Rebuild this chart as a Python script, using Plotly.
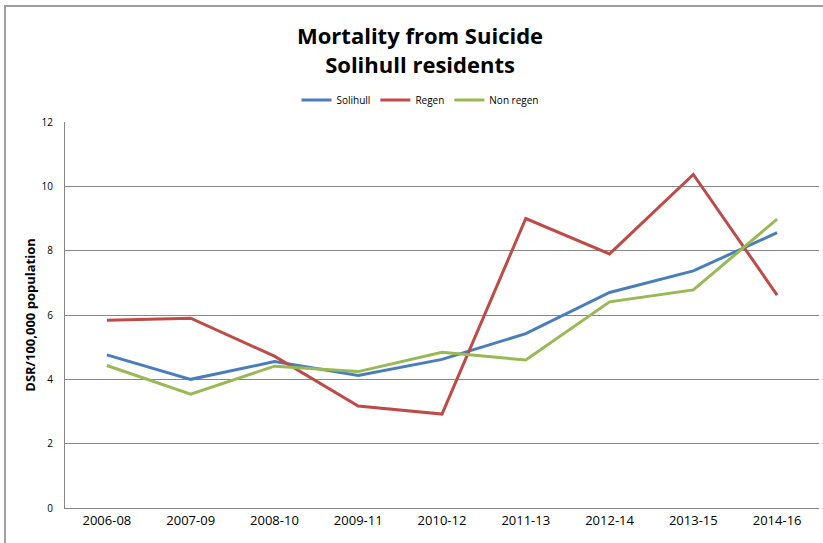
import plotly.graph_objects as go

periods = ["2006-08", "2007-09", "2008-10", "2009-11", "2010-12", "2011-13", "2012-14", "2013-15", "2014-16"]
solihull = [4.76, 4.00, 4.55, 4.12, 4.62, 5.42, 6.70, 7.37, 8.56]
regen = [5.84, 5.90, 4.72, 3.17, 2.92, 9.00, 7.90, 10.37, 6.62]
non_regen = [4.43, 3.54, 4.41, 4.24, 4.84, 4.60, 6.41, 6.78, 8.98]

series = [("Solihull", solihull, "#4A7EBB"), ("Regen", regen, "#BE4B48"), ("Non regen", non_regen, "#98B954")]

fig = go.Figure()
for name, vals, col in series:
    fig.add_trace(go.Scatter(x=periods, y=vals, name=name, mode="lines",
                             line=dict(color=col, width=3)))

W, H = 823, 543
L, T = 65, 122
pw, ph = 754, 386
R = W - L - pw
B = H - T - ph

def px_x(p):
    return (p - L) / pw

def px_y(p):
    return (T + ph - p) / ph

fig.update_layout(
    width=W, height=H,
    margin=dict(l=L, r=R, t=T, b=B, pad=0, autoexpand=False),
    paper_bgcolor="white", plot_bgcolor="white",
    font=dict(family="Liberation Sans Narrow, Open Sans, sans-serif", color="#000000"),
    showlegend=True,
    legend=dict(orientation="h", x=px_x(420), xanchor="center", y=px_y(100), yanchor="middle",
                font=dict(size=10, family="Open Sans, sans-serif"), itemwidth=30,
                bgcolor="rgba(0,0,0,0)"),
    xaxis=dict(type="category", showgrid=False, showline=True, linecolor="#868686", linewidth=1,
               ticks="", tickfont=dict(size=13), range=[-0.5, 8.5], automargin=False),
    yaxis=dict(range=[0, 12], dtick=2, showgrid=True, gridcolor="#868686", gridwidth=1,
               showline=True, linecolor="#868686", linewidth=1, zeroline=False,
               ticks="outside", ticklen=9, tickcolor="rgba(0,0,0,0)", automargin=False,
               tickfont=dict(size=10, family="Open Sans, sans-serif"),
               title=dict(text="DSR/100,000 population", font=dict(size=13, family="Open Sans, sans-serif", weight="bold"), standoff=3)),
    annotations=[dict(text="<b>Mortality from Suicide<br>Solihull residents</b>", x=px_x(420), y=px_y(49),
                      xref="paper", yref="paper", xanchor="center", yanchor="middle", showarrow=False,
                      font=dict(size=22, family="Open Sans, sans-serif", color="black"))],
    shapes=[dict(type="rect", xref="paper", yref="paper", x0=px_x(5), x1=px_x(860), y0=px_y(580), y1=px_y(6),
                 line=dict(color="#A0A0A0", width=2), fillcolor="rgba(0,0,0,0)", layer="below")],
)

fig.write_html("out.html", config={"displayModeBar": False},
               post_script="document.body.style.margin='0';document.body.style.overflow='hidden';")
